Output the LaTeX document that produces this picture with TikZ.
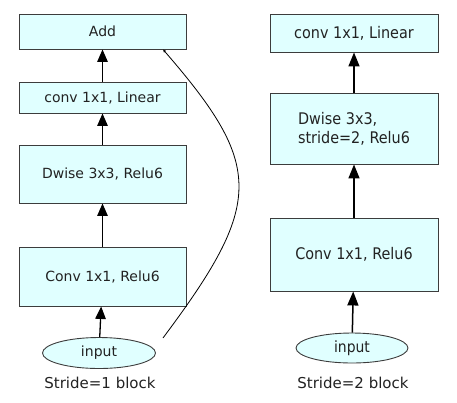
\documentclass[tikz,border=0pt]{standalone}
\usepackage{fontspec}
\setmainfont{DejaVu Sans}
\newfontfamily\condfont{DejaVu Sans Condensed}
\usetikzlibrary{shapes.geometric, arrows.meta}
\definecolor{boxfill}{RGB}{224,255,255}
\definecolor{boxline}{RGB}{60,60,60}
\definecolor{txt}{RGB}{34,34,34}

\begin{document}
\begin{tikzpicture}[x=1pt, y=-1pt,
    blk/.style={draw=boxline, fill=boxfill, line width=0.9pt, inner sep=0pt, text=txt},
    lblk/.style={blk, minimum width=167pt, font=\fontsize{14}{17}\selectfont},
    rblk/.style={blk, minimum width=168pt, font=\condfont\fontsize{16}{19}\selectfont},
    inp/.style={blk, ellipse, minimum width=113pt, minimum height=31pt},
    capt/.style={text=txt, font=\fontsize{15}{18}\selectfont},
    upl/.style={-{Triangle[length=12.5pt, width=10.5pt]}, line width=1.3pt},
    upr/.style={-{Triangle[length=14pt, width=11pt]}, line width=1.5pt}]
    \useasboundingbox (0,0) rectangle (457,402);

    % stride 1
    \node[lblk, minimum height=35pt] (add) at (102.5,31.5) {Add};
    \node[lblk, minimum height=31pt] (lin1) at (102.5,97.5) {conv 1x1, Linear};
    \node[lblk, minimum height=58pt] (dw1) at (102.5,174) {Dwise 3x3, Relu6};
    \node[lblk, minimum height=59pt] (cv1) at (102.5,276.5) {Conv 1x1, Relu6};
    \node[inp, font=\fontsize{14}{17}\selectfont] (in1) at (99,353) {input};
    \node[capt] (cap1) at (100,383) {Stride=1 block};
    \draw[upl] (in1) -- (cv1);
    \draw[upl] (cv1) -- (dw1);
    \draw[upl] (dw1) -- (lin1);
    \draw[upl] (lin1) -- (add);
    \coordinate (skip) at ([xshift=7pt, yshift=15pt]in1.east);
    \draw[-{Latex[length=3pt, width=3pt]}, line width=0.8pt]
        (skip) .. controls (264,203) and (264,166) .. ([xshift=60.5pt]add.south);

    % stride 2
    \node[rblk, minimum height=38pt] (lin2) at (354,33) {conv 1x1, Linear};
    \node[rblk, minimum height=71pt, align=left] (dw2) at (354,128.5) {Dwise 3x3,\\stride=2, Relu6};
    \node[rblk, minimum height=73pt] (cv2) at (354,254.5) {Conv 1x1, Relu6};
    \node[inp, minimum width=112pt, minimum height=30pt, font=\condfont\fontsize{15.5}{18}\selectfont] (in2) at (352,348) {input};
    \node[capt] (cap2) at (353,383) {Stride=2 block};
    \draw[upr] (in2) -- (cv2);
    \draw[upr] (cv2) -- (dw2);
    \draw[upr] (dw2) -- (lin2);
\end{tikzpicture}
\end{document}
